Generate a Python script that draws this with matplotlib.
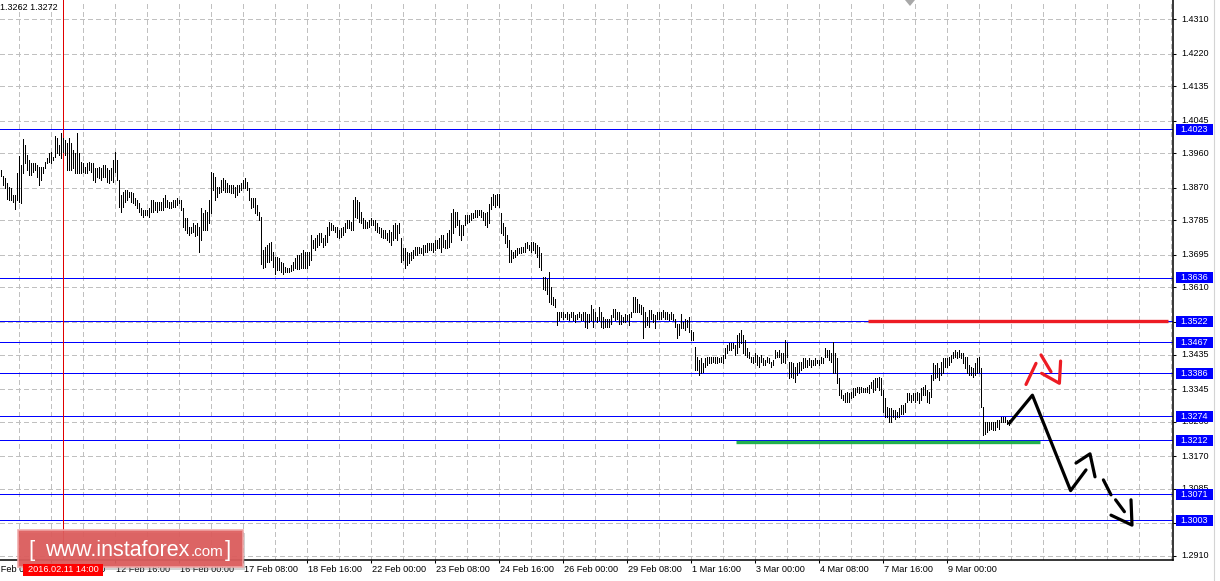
import matplotlib
matplotlib.use("Agg")
import matplotlib.pyplot as plt
from matplotlib.patches import Rectangle, Polygon
from matplotlib.transforms import Affine2D, blended_transform_factory
import numpy as np

plt.rcParams['font.family'] = ['Liberation Sans', 'DejaVu Sans']
plt.rcParams['lines.scale_dashes'] = False

# ---------------- data (GBPUSD H1 bars, high / low) ----------------
hi_a = [1.3917,1.3901,1.3895,1.3882,1.3873,1.3869,1.3851,1.3851,1.3908,1.3953,
        1.3930,1.3997,1.3982,1.3956,1.3943,1.3934,1.3934,1.3934,1.3930,1.3925,
        1.3925,1.3925,1.3938,1.3947,1.3960,1.3964,1.3951,1.4004,1.3999,1.3982,
        1.4012,1.3999,1.3995,1.3986,1.3999,1.3986,1.3969,1.3960,1.4012,1.3960,
        1.3938,1.3934,1.3925,1.3934,1.3938,1.3934,1.3934,1.3921,1.3921,1.3925,
        1.3921,1.3930,1.3930,1.3921,1.3917,1.3921,1.3943,1.3964,1.3943,1.3890,
        1.3851,1.3860,1.3864,1.3864,1.3860,1.3860,1.3856,1.3843,1.3838,1.3830,
        1.3817,1.3812,1.3812,1.3812,1.3817,1.3838,1.3838,1.3834,1.3834,1.3834,
        1.3834,1.3843,1.3851,1.3838,1.3834,1.3834,1.3838,1.3838,1.3843,1.3838,
        1.3838,1.3817,1.3790,1.3790,1.3769,1.3769,1.3777,1.3773,1.3777,1.3769,
        1.3817,1.3803,1.3812,1.3808,1.3838,1.3912,1.3908,1.3899,1.3873,1.3873,
        1.3890,1.3895,1.3890,1.3882,1.3877,1.3877,1.3877,1.3873,1.3877,1.3877,
        1.3882,1.3890,1.3895,1.3886,1.3869,1.3843,1.3843,1.3843,1.3825,1.3808]
lo_a = [1.3901,1.3877,1.3869,1.3840,1.3838,1.3838,1.3834,1.3814,1.3838,1.3834,
        1.3830,1.3908,1.3934,1.3917,1.3904,1.3904,1.3912,1.3917,1.3899,1.3877,
        1.3890,1.3908,1.3921,1.3934,1.3938,1.3934,1.3943,1.3951,1.3960,1.3956,
        1.3947,1.3964,1.3956,1.3917,1.3917,1.3917,1.3921,1.3908,1.3908,1.3908,
        1.3908,1.3912,1.3908,1.3908,1.3917,1.3912,1.3890,1.3886,1.3899,1.3895,
        1.3890,1.3899,1.3899,1.3886,1.3882,1.3890,1.3886,1.3912,1.3890,1.3821,
        1.3808,1.3821,1.3834,1.3838,1.3847,1.3834,1.3830,1.3825,1.3817,1.3808,
        1.3799,1.3795,1.3799,1.3799,1.3795,1.3808,1.3808,1.3812,1.3808,1.3812,
        1.3812,1.3812,1.3821,1.3821,1.3817,1.3817,1.3821,1.3821,1.3825,1.3830,
        1.3812,1.3769,1.3760,1.3751,1.3747,1.3751,1.3756,1.3743,1.3747,1.3703,
        1.3734,1.3760,1.3760,1.3760,1.3777,1.3803,1.3864,1.3838,1.3847,1.3856,
        1.3860,1.3864,1.3860,1.3860,1.3860,1.3856,1.3856,1.3847,1.3851,1.3860,
        1.3864,1.3869,1.3869,1.3864,1.3838,1.3817,1.3821,1.3803,1.3799,1.3786]

hi_b = [1.3795,1.3707,1.3716,1.3720,1.3725,1.3729,1.3703,1.3690,1.3690,1.3686,
        1.3677,1.3673,1.3664,1.3662,1.3662,1.3668,1.3677,1.3686,1.3694,1.3694,
        1.3699,1.3707,1.3703,1.3703,1.3703,1.3747,1.3733,1.3738,1.3747,1.3751,
        1.3751,1.3738,1.3747,1.3768,1.3781,1.3777,1.3773,1.3768,1.3768,1.3760,
        1.3764,1.3768,1.3777,1.3786,1.3786,1.3781,1.3838,1.3847,1.3838,1.3834,
        1.3807,1.3790,1.3786,1.3781,1.3786,1.3790,1.3786,1.3786,1.3777,1.3768,
        1.3764,1.3760,1.3760,1.3751,1.3760,1.3755,1.3773,1.3777,1.3773,1.3777,
        1.3738,1.3712,1.3712,1.3703,1.3699,1.3703,1.3707,1.3716,1.3716,1.3716,
        1.3712,1.3720,1.3720,1.3725,1.3725,1.3725,1.3725,1.3733,1.3733,1.3738,
        1.3747,1.3747,1.3733,1.3751,1.3760,1.3803,1.3816,1.3807,1.3807,1.3786,
        1.3773,1.3773,1.3799,1.3799,1.3799,1.3803,1.3803,1.3812,1.3812,1.3812,
        1.3812,1.3807,1.3803,1.3807,1.3829,1.3847,1.3855,1.3851,1.3855,1.3855,
        1.3803,1.3777,1.3768,1.3747,1.3733,1.3707,1.3703,1.3707,1.3712,1.3712,
        1.3716,1.3716,1.3725,1.3729,1.3720,1.3729,1.3729,1.3725,1.3720,1.3716]
lo_b = [1.3670,1.3660,1.3664,1.3677,1.3677,1.3681,1.3664,1.3646,1.3655,1.3655,
        1.3651,1.3646,1.3651,1.3651,1.3651,1.3653,1.3655,1.3660,1.3657,1.3657,
        1.3660,1.3662,1.3660,1.3662,1.3668,1.3681,1.3712,1.3707,1.3716,1.3720,
        1.3729,1.3716,1.3720,1.3729,1.3747,1.3760,1.3760,1.3755,1.3742,1.3738,
        1.3742,1.3747,1.3755,1.3764,1.3764,1.3760,1.3760,1.3794,1.3790,1.3781,
        1.3777,1.3764,1.3764,1.3764,1.3768,1.3773,1.3773,1.3760,1.3755,1.3751,
        1.3742,1.3738,1.3738,1.3733,1.3729,1.3720,1.3733,1.3738,1.3733,1.3751,
        1.3677,1.3681,1.3660,1.3668,1.3673,1.3681,1.3686,1.3694,1.3694,1.3699,
        1.3699,1.3694,1.3703,1.3703,1.3707,1.3707,1.3703,1.3707,1.3712,1.3712,
        1.3703,1.3716,1.3712,1.3712,1.3716,1.3729,1.3751,1.3768,1.3773,1.3747,
        1.3733,1.3747,1.3773,1.3777,1.3781,1.3786,1.3790,1.3794,1.3794,1.3799,
        1.3794,1.3786,1.3773,1.3768,1.3777,1.3816,1.3825,1.3820,1.3825,1.3820,
        1.3751,1.3747,1.3725,1.3716,1.3677,1.3677,1.3686,1.3690,1.3694,1.3699,
        1.3699,1.3703,1.3703,1.3712,1.3707,1.3703,1.3707,1.3699,1.3690,1.3664]

hi_c = [1.3699,1.3638,1.3638,1.3633,1.3651,1.3612,1.3586,1.3581,1.3546,1.3546,
        1.3546,1.3546,1.3542,1.3546,1.3542,1.3546,1.3546,1.3538,1.3542,1.3546,
        1.3542,1.3546,1.3546,1.3542,1.3542,1.3564,1.3555,1.3546,1.3533,1.3560,
        1.3546,1.3533,1.3529,1.3529,1.3529,1.3538,1.3555,1.3555,1.3546,1.3546,
        1.3538,1.3533,1.3542,1.3538,1.3542,1.3546,1.3586,1.3586,1.3581,1.3568,
        1.3564,1.3560,1.3546,1.3533,1.3551,1.3551,1.3542,1.3538,1.3546,1.3546,
        1.3546,1.3551,1.3546,1.3546,1.3542,1.3546,1.3542,1.3529,1.3516,1.3516,
        1.3542,1.3520,1.3529,1.3525,1.3533,1.3499,1.3494]
lo_c = [1.3655,1.3607,1.3603,1.3594,1.3573,1.3568,1.3564,1.3560,1.3512,1.3525,
        1.3533,1.3529,1.3533,1.3529,1.3525,1.3533,1.3525,1.3520,1.3529,1.3533,
        1.3525,1.3525,1.3507,1.3503,1.3520,1.3525,1.3507,1.3525,1.3520,1.3525,
        1.3507,1.3503,1.3507,1.3507,1.3507,1.3516,1.3533,1.3525,1.3529,1.3516,
        1.3516,1.3520,1.3520,1.3525,1.3512,1.3533,1.3546,1.3546,1.3546,1.3546,
        1.3542,1.3477,1.3507,1.3512,1.3507,1.3529,1.3520,1.3503,1.3529,1.3529,
        1.3529,1.3533,1.3529,1.3529,1.3525,1.3529,1.3525,1.3507,1.3477,1.3486,
        1.3503,1.3503,1.3499,1.3507,1.3494,1.3473,1.3473]

hi_d = [1.3455,1.3429,1.3421,1.3425,1.3412,1.3425,1.3429,1.3429,1.3429,1.3429,
        1.3429,1.3429,1.3425,1.3429,1.3434,1.3451,1.3460,1.3464,1.3464,1.3464,
        1.3460,1.3486,1.3490,1.3499,1.3486,1.3473,1.3451,1.3442,1.3429,1.3429,
        1.3438,1.3434,1.3429,1.3434,1.3425,1.3421,1.3429,1.3425,1.3416,1.3421,
        1.3447,1.3442,1.3447,1.3438,1.3438,1.3473,1.3464,1.3416,1.3416,1.3412,
        1.3403,1.3412,1.3416,1.3416,1.3425,1.3425,1.3421,1.3425,1.3421,1.3421,
        1.3425,1.3421,1.3421,1.3429,1.3425,1.3451,1.3447,1.3447,1.3438,1.3468,
        1.3438,1.3425,1.3373,1.3342,1.3329,1.3334,1.3338,1.3334,1.3338,1.3347,
        1.3347,1.3351,1.3351,1.3351,1.3347,1.3347,1.3351,1.3355,1.3364,1.3368,
        1.3373,1.3373,1.3377,1.3373,1.3342,1.3321,1.3299,1.3295,1.3295,1.3290,
        1.3290,1.3286,1.3295,1.3303,1.3303,1.3308,1.3334,1.3334,1.3329,1.3334,
        1.3334,1.3338,1.3334,1.3347,1.3351,1.3355,1.3342,1.3338,1.3381,1.3412,
        1.3408,1.3412,1.3399,1.3416,1.3425,1.3425,1.3425,1.3429,1.3434,1.3442,
        1.3447,1.3442,1.3447,1.3438,1.3438,1.3429,1.3429,1.3408,1.3403,1.3399,
        1.3412,1.3425,1.3429,1.3399,1.3299,1.3260,1.3260,1.3260,1.3260,1.3260,
        1.3260,1.3264,1.3264,1.3273,1.3273,1.3273,1.3264,1.3264]
lo_d = [1.3395,1.3395,1.3381,1.3386,1.3390,1.3403,1.3408,1.3412,1.3412,1.3416,
        1.3412,1.3412,1.3416,1.3416,1.3412,1.3425,1.3438,1.3447,1.3447,1.3451,
        1.3434,1.3438,1.3455,1.3464,1.3438,1.3434,1.3429,1.3425,1.3416,1.3412,
        1.3416,1.3408,1.3403,1.3416,1.3408,1.3408,1.3416,1.3412,1.3403,1.3408,
        1.3425,1.3429,1.3429,1.3412,1.3416,1.3412,1.3429,1.3373,1.3377,1.3373,
        1.3364,1.3381,1.3390,1.3395,1.3399,1.3403,1.3403,1.3408,1.3403,1.3408,
        1.3408,1.3412,1.3408,1.3412,1.3412,1.3429,1.3429,1.3421,1.3416,1.3386,
        1.3386,1.3360,1.3329,1.3321,1.3316,1.3312,1.3312,1.3312,1.3321,1.3325,
        1.3329,1.3338,1.3334,1.3338,1.3338,1.3338,1.3338,1.3334,1.3347,1.3338,
        1.3342,1.3351,1.3342,1.3329,1.3286,1.3273,1.3273,1.3260,1.3260,1.3273,
        1.3268,1.3273,1.3273,1.3281,1.3281,1.3286,1.3312,1.3316,1.3312,1.3316,
        1.3312,1.3316,1.3308,1.3316,1.3329,1.3329,1.3312,1.3308,1.3325,1.3368,
        1.3373,1.3377,1.3368,1.3381,1.3386,1.3403,1.3403,1.3408,1.3416,1.3425,
        1.3429,1.3425,1.3429,1.3425,1.3412,1.3399,1.3386,1.3381,1.3381,1.3377,
        1.3381,1.3386,1.3390,1.3299,1.3225,1.3229,1.3234,1.3238,1.3242,1.3238,
        1.3238,1.3247,1.3242,1.3260,1.3260,1.3260,1.3255,1.3251]

price_ticks = [1.4310, 1.4220, 1.4135, 1.4045, 1.3960, 1.3870, 1.3785, 1.3695, 1.3610,
               1.3520, 1.3435, 1.3345, 1.3260, 1.3170, 1.3085, 1.2995, 1.2910]
level_prices = [1.4023, 1.3636, 1.3522, 1.3467, 1.3386, 1.3274, 1.3212, 1.3071, 1.3003]
time_tick_bars = [-7, 25, 57, 89, 121, 153, 185, 217, 249, 281, 313, 345, 377, 409, 441, 473]
time_tick_labels = ["10 Feb 00:00", "11 Feb 08:00", "12 Feb 16:00", "16 Feb 00:00", "17 Feb 08:00",
                    "18 Feb 16:00", "22 Feb 00:00", "23 Feb 08:00", "24 Feb 16:00", "26 Feb 00:00",
                    "29 Feb 08:00", "1 Mar 16:00", "3 Mar 00:00", "4 Mar 08:00", "7 Mar 16:00",
                    "9 Mar 00:00"]
cursor_bar = 31
cursor_label = "2016.02.11 14:00"
header_text = "1.3262 1.3272"

resistance_price = 1.3522
resistance_bars = [433.5, 583.5]
support_price = 1.3206
support_bars = [367.5, 519.5]

# hand-drawn forecast arrows (bar index, price)
black_path_x = [504.2, 515.7, 534.8, 542.5]
black_path_y = [1.3256, 1.3329, 1.3080, 1.3134]
black_head_x = [537.5, 544.5, 547.0]
black_head_y = [1.3152, 1.3176, 1.3116]
dash_seg1_x = [551.2, 555.0]; dash_seg1_y = [1.3108, 1.3069]
dash_seg2_x = [557.3, 561.7]; dash_seg2_y = [1.3056, 1.3025]
dash_head_x = [555.0, 565.5, 565.0]
dash_head_y = [1.3016, 1.2990, 1.3056]
red_seg1_x = [512.5, 517.5]; red_seg1_y = [1.3357, 1.3412]
red_seg2_x = [520.0, 525.0]; red_seg2_y = [1.3434, 1.3390]
red_head_x = [520.3, 529.2, 529.8]
red_head_y = [1.3386, 1.3360, 1.3418]

highs = np.array(hi_a + hi_b + hi_c + hi_d)
lows = np.array(lo_a + lo_b + lo_c + lo_d)
bars = np.arange(len(highs))

# ---------------- figure ----------------
W, H = 1220, 581
fig = plt.figure(figsize=(W / 100, H / 100), dpi=100)
fig.patch.set_facecolor('white')
PR, PB = 1173, 560          # plot right / bottom in pixels
PPU = 3833.0                # pixels per price unit
TOP = 1.4360
ax = fig.add_axes([0, 1 - PB / H, PR / W, PB / H])
ax.set_xlim(-0.5, -0.5 + PR / 2)
ax.set_ylim(TOP - PB / PPU, TOP)
ax.set_facecolor('white')
px = Affine2D().scale(1 / W, -1 / H).translate(0, 1) + fig.transFigure
yr = blended_transform_factory(ax.transAxes, ax.transData)
xb = blended_transform_factory(ax.transData, px)

THIN = 0.6
grid_kw = dict(color='#c0c0c0', lw=THIN, ls=(0, (3, 2.2)), zorder=0.5, antialiased=False)
for p in price_ticks:
    ax.axhline(p, **grid_kw)
for g in np.arange(9, 586, 16):
    ax.axvline(g, **grid_kw)

for lv in level_prices:
    ax.axhline(lv, color='#0000ff', lw=THIN, zorder=1, antialiased=False)

ax.axvline(cursor_bar, color='#e00000', lw=THIN, zorder=1.5, antialiased=False)

ax.vlines(bars, lows, highs, colors='black', lw=THIN, zorder=2, antialiased=False)

ax.plot(resistance_bars, [resistance_price] * 2, color='#ed1c24', lw=2.4, zorder=3,
        solid_capstyle='butt')
ax.plot(support_bars, [support_price] * 2, color='#22b14c', lw=2.4, zorder=3,
        solid_capstyle='butt')

ak = dict(color='black', lw=2.3, zorder=4, solid_capstyle='round', solid_joinstyle='round')
ax.plot(black_path_x, black_path_y, **ak)
ax.plot(black_head_x, black_head_y, **ak)
ax.plot(dash_seg1_x, dash_seg1_y, **ak)
ax.plot(dash_seg2_x, dash_seg2_y, **ak)
ax.plot(dash_head_x, dash_head_y, **ak)
rk = dict(ak, color='#ed1c24')
ax.plot(red_seg1_x, red_seg1_y, **rk)
ax.plot(red_seg2_x, red_seg2_y, **rk)
ax.plot(red_head_x, red_head_y, **rk)

# axes frame
for s in ['top', 'left']:
    ax.spines[s].set_visible(False)
for s in ['bottom', 'right']:
    ax.spines[s].set_color('black')
    ax.spines[s].set_linewidth(1.1)

ax.yaxis.tick_right()
ax.set_yticks(price_ticks)
ax.set_yticklabels([])
ax.tick_params(axis='y', direction='out', length=2.5, width=0.75, color='black')
ax.set_xticks([b for b in time_tick_bars if b >= 0])
ax.set_xticklabels([])
ax.tick_params(axis='x', direction='out', length=2.5, width=0.75, color='black')

for p in price_ticks:
    ax.text(1181 / PR, p, f"{p:.4f}", transform=yr, ha='left', va='center',
            fontsize=6.5, color='black', clip_on=False, zorder=5)
for b, lab in zip(time_tick_bars, time_tick_labels):
    ax.text(b + 0.5, 570, lab, transform=xb, ha='left', va='center',
            fontsize=6.6, color='black', clip_on=False, zorder=5)

for lv in level_prices:
    ax.add_patch(Rectangle((1176 / PR, lv - 5.5 / PPU), 37 / PR, 11 / PPU, transform=yr,
                           facecolor='#0000ff', edgecolor='none', clip_on=False, zorder=6))
    ax.text(1194.5 / PR, lv, f"{lv:.4f}", transform=yr, ha='center', va='center',
            fontsize=6.5, color='white', clip_on=False, zorder=7)

# header text
fig.text(0, 7, header_text, transform=px, ha='left', va='center', fontsize=6.5, color='black')

# shift marker triangle at top
fig.add_artist(Polygon([(905, 0), (915, 0), (910, 6)], closed=True, transform=px,
                       facecolor='#a8a8a8', edgecolor='none'))

# right strip (neighbouring window)
fig.add_artist(plt.Line2D([1214, 1214], [0, 581], transform=px, color='#d4d4d4', lw=0.8))

# watermark
fig.add_artist(Rectangle((20, 533), 225, 37, transform=px, facecolor='#808080',
                         alpha=0.35, edgecolor='none', zorder=8))
fig.add_artist(Rectangle((17.5, 530), 225, 37, transform=px, facecolor='#dd5c5c',
                         alpha=0.93, edgecolor='#f0a8a8', lw=1.2, zorder=9))
fig.text(28, 556, "[", transform=px, ha='left', va='baseline', fontsize=16,
         color='white', zorder=10)
fig.text(45, 556, "www.instaforex", transform=px, ha='left', va='baseline', fontsize=15.5,
         color='white', zorder=10)
fig.text(191, 556, ".com", transform=px, ha='left', va='baseline', fontsize=11,
         color='white', zorder=10)
fig.text(225, 556, "]", transform=px, ha='left', va='baseline', fontsize=16,
         color='white', zorder=10)

# cursor date box
fig.add_artist(Rectangle((23, 564), 80, 12, transform=px, facecolor='#ff0000',
                         edgecolor='none', zorder=11))
fig.text(63, 570, cursor_label, transform=px, ha='center', va='center', fontsize=6.6,
         color='white', zorder=12)

fig.savefig('out.png', dpi=100, facecolor='white')
